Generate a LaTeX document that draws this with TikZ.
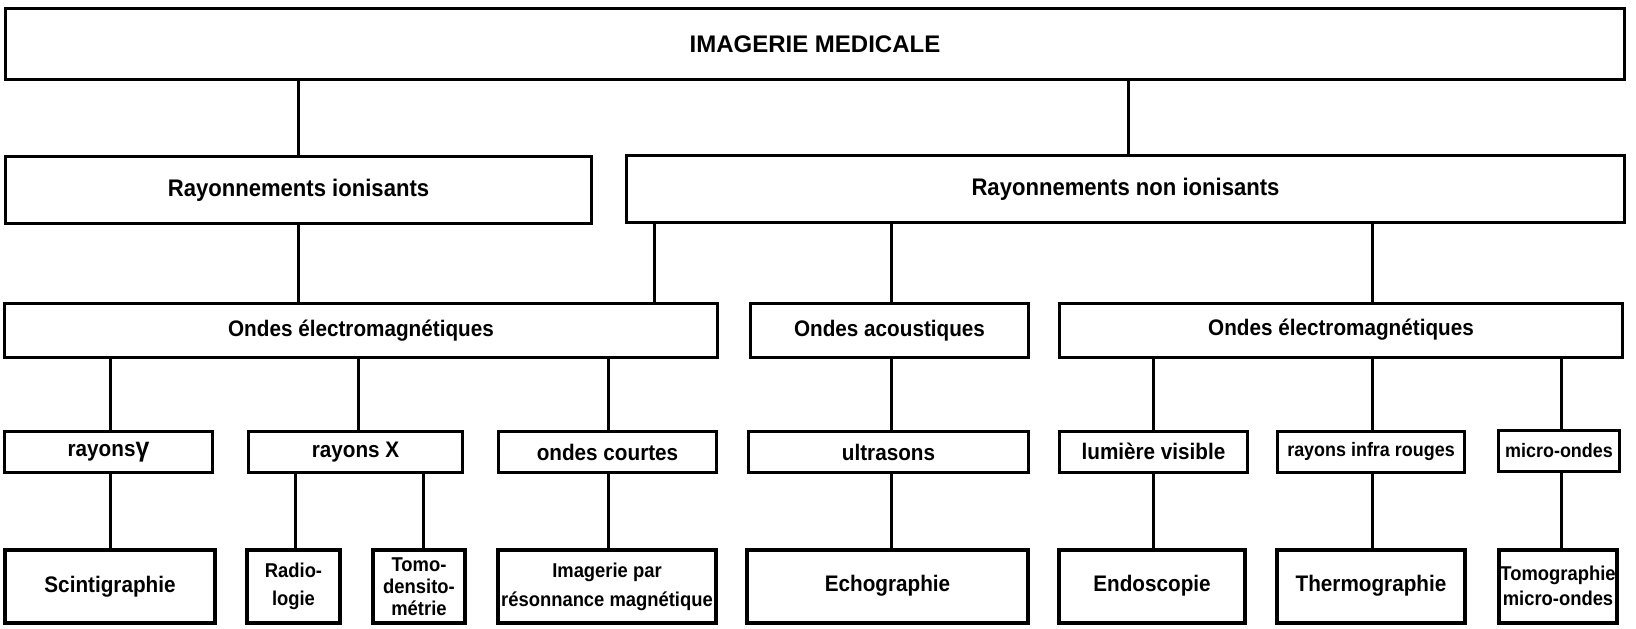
\documentclass[tikz,border=0pt]{standalone}
\usepackage{fontspec}
\setmainfont{Liberation Sans}
\newfontfamily\condb{Liberation Sans}[FakeStretch=0.92]
\begin{document}
\begin{tikzpicture}[x=1pt,y=-1pt,
  box/.style={draw, line width=3pt, inner sep=0pt, align=center,
    font=\condb\bfseries\fontsize{22.5}{26}\selectfont},
  leaf/.style={draw, line width=4pt, inner sep=0pt, align=center,
    font=\condb\bfseries\fontsize{22.5}{28}\selectfont},
  small/.style={font=\condb\bfseries\fontsize{19.5}{22}\selectfont},
  smallb/.style={font=\condb\bfseries\fontsize{20}{#1}\selectfont},
  conn/.style={line width=3pt}]
\useasboundingbox (0,0) rectangle (1636,629);
% level 1
\node[box, minimum width=1619pt, minimum height=71pt, font=\bfseries\fontsize{24}{26}\selectfont] (top) at (815,44) {IMAGERIE MEDICALE};
% level 2
\node[box, minimum width=586pt, minimum height=67pt, font=\condb\bfseries\fontsize{24}{26}\selectfont] (ion) at (298.5,190) {Rayonnements ionisants};
\node[box, minimum width=998pt, minimum height=67pt, font=\condb\bfseries\fontsize{24}{26}\selectfont] (nonion) at (1125.5,189) {Rayonnements non ionisants};
% level 3
\node[box, minimum width=713pt, minimum height=54pt] (emL) at (361,330.5) {Ondes électromagnétiques};
\node[box, minimum width=278pt, minimum height=54pt] (ac) at (889.5,330.5) {Ondes acoustiques};
\node[box, minimum width=563pt, minimum height=54pt] (emR) at (1341,330) {Ondes électromagnétiques};
% level 4
\node[box, minimum width=208pt, minimum height=41pt] (gam) at (108.5,452) {rayons{\fontsize{27}{27}\selectfont γ}};
\node[box, minimum width=214pt, minimum height=41pt] (rx) at (355.5,452) {rayons X};
\node[box, minimum width=218pt, minimum height=41pt] (oc) at (607.5,452) {ondes courtes};
\node[box, minimum width=280pt, minimum height=41pt] (us) at (888.5,452) {ultrasons};
\node[box, minimum width=188pt, minimum height=41pt] (lv) at (1153.5,451.5) {lumière visible};
\node[box, small, minimum width=187pt, minimum height=41pt] (ir) at (1371,451.5) {rayons infra rouges};
\node[box, small, minimum width=121pt, minimum height=41pt] (mo) at (1559,451) {micro-ondes};
% level 5
\node[leaf, minimum width=210pt, minimum height=73pt] (sci) at (110,586.5) {Scintigraphie};
\node[leaf, smallb=28, minimum width=93pt, minimum height=73pt] (rad) at (293.5,586.5) {Radio-\\logie};
\node[leaf, smallb=22, minimum width=92pt, minimum height=73pt] (tdm) at (419,586.5) {Tomo-\\densito-\\métrie};
\node[leaf, smallb=29, minimum width=218pt, minimum height=73pt] (irm) at (607,586.5) {Imagerie par\\résonnance magnétique};
\node[leaf, minimum width=281pt, minimum height=73pt] (echo) at (887.5,586) {Echographie};
\node[leaf, minimum width=186pt, minimum height=73pt] (endo) at (1152,586) {Endoscopie};
\node[leaf, minimum width=188pt, minimum height=73pt] (therm) at (1371,586) {Thermographie};
\node[leaf, smallb=25, minimum width=118pt, minimum height=73pt] (tmo) at (1558,586) {Tomographie\\micro-ondes};
% connector x positions
\coordinate (xa) at (298,0);
\coordinate (xb) at (1128,0);
\coordinate (xc) at (654,0);
\coordinate (xd) at (891,0);
\coordinate (xe) at (1372,0);
\coordinate (x1) at (110,0);
\coordinate (x2) at (358,0);
\coordinate (x3) at (608,0);
\coordinate (x4) at (1153,0);
\coordinate (x5) at (1561,0);
\coordinate (x6) at (295,0);
\coordinate (x7) at (423,0);
% connectors
\draw[conn] (top.south -| xa) -- (ion.north -| xa);
\draw[conn] (top.south -| xb) -- (nonion.north -| xb);
\draw[conn] (ion.south -| xa) -- (emL.north -| xa);
\draw[conn] (nonion.south -| xc) -- (emL.north -| xc);
\draw[conn] (nonion.south -| xd) -- (ac.north -| xd);
\draw[conn] (nonion.south -| xe) -- (emR.north -| xe);
\draw[conn] (emL.south -| x1) -- (gam.north -| x1);
\draw[conn] (emL.south -| x2) -- (rx.north -| x2);
\draw[conn] (emL.south -| x3) -- (oc.north -| x3);
\draw[conn] (ac.south -| xd) -- (us.north -| xd);
\draw[conn] (emR.south -| x4) -- (lv.north -| x4);
\draw[conn] (emR.south -| xe) -- (ir.north -| xe);
\draw[conn] (emR.south -| x5) -- (mo.north -| x5);
\draw[conn] (gam.south -| x1) -- (sci.north -| x1);
\draw[conn] (rx.south -| x6) -- (rad.north -| x6);
\draw[conn] (rx.south -| x7) -- (tdm.north -| x7);
\draw[conn] (oc.south -| x3) -- (irm.north -| x3);
\draw[conn] (us.south -| xd) -- (echo.north -| xd);
\draw[conn] (lv.south -| x4) -- (endo.north -| x4);
\draw[conn] (ir.south -| xe) -- (therm.north -| xe);
\draw[conn] (mo.south -| x5) -- (tmo.north -| x5);
\end{tikzpicture}
\end{document}
